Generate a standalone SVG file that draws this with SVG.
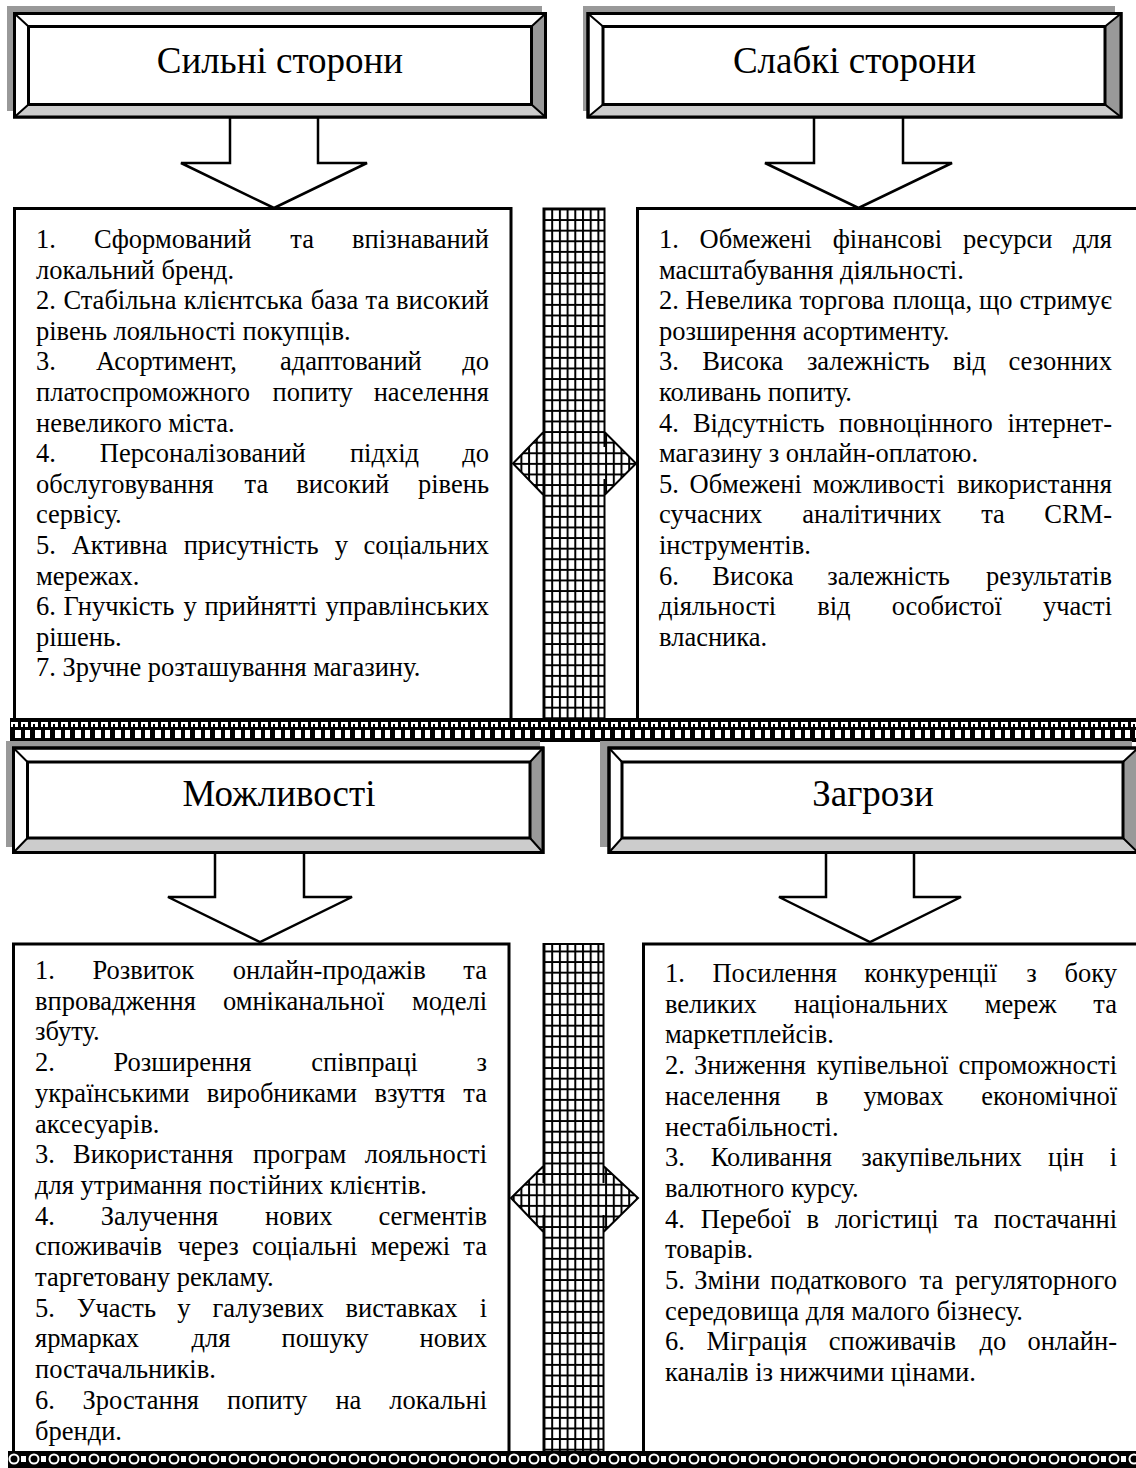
<svg xmlns="http://www.w3.org/2000/svg" width="1136" height="1468" viewBox="0 0 1136 1468">
<style>
.t{font-family:"Liberation Serif","Times New Roman",serif;font-size:26.5px;fill:#000}
.e{text-anchor:end}
.h{font-family:"Liberation Serif","Times New Roman",serif;font-size:37px;fill:#000;text-anchor:middle}
.ln{stroke:#000;stroke-width:3;fill:none}
.sh{fill:#999}
.bo{fill:#fff;stroke:#000;stroke-width:3}
.bb{fill:#ccc;stroke:none}
.br{fill:#999;stroke:none}
.dg{stroke:#000;stroke-width:2}
.arr{fill:#fff;stroke:#000;stroke-width:2.5;stroke-linejoin:miter}
.bar{stroke:#000;stroke-width:2;fill:none}
</style>
<defs>
<pattern id="grid" patternUnits="userSpaceOnUse" x="543.5" y="208.5" width="7.7" height="10.6">
<rect width="7.7" height="10.6" fill="#fff"/>
<path d="M1 0V10.6M0 1H7.7" stroke="#000" stroke-width="2"/>
</pattern>
<pattern id="chk" patternUnits="userSpaceOnUse" x="10" y="718" width="20" height="24">
<rect width="20" height="24" fill="#000"/>
<rect x="1" y="4" width="7" height="5" fill="#fff"/>
<rect x="3" y="6" width="2" height="3" fill="#000"/>
<rect x="11" y="4" width="7" height="5" fill="#fff"/>
<rect x="13" y="6" width="2" height="3" fill="#000"/>
<rect x="5" y="12" width="6" height="8" fill="#fff"/>
<rect x="15" y="12" width="5" height="8" fill="#fff"/>
</pattern>
<pattern id="ring" patternUnits="userSpaceOnUse" x="8" y="1451" width="20" height="17">
<rect width="20" height="17" fill="#000"/>
<circle cx="6" cy="8" r="4.5" fill="none" stroke="#fff" stroke-width="2"/>
<rect x="13" y="5" width="5" height="6" fill="#fff"/>
</pattern>
</defs>
<rect width="1136" height="1468" fill="#fff"/>

<g id="connectors">
<polygon class="arr" points="230,117 230,163 181,163 274,208 367,163 318,163 318,117"/>
<polygon class="arr" points="814,117 814,163 765,163 858.5,208 952,163 903,163 903,117"/>
<polygon class="arr" points="215,852.5 215,897 168,897 260,942 352,897 304,897 304,852.5"/>
<polygon class="arr" points="826,852.5 826,897 779,897 870,942 961,897 914,897 914,852.5"/>
</g>

<g id="title-strengths">
<rect class="sh" x="7" y="6" width="535" height="105"/>
<rect class="bo" x="14.5" y="13.5" width="531" height="103.5"/>
<polygon class="bb" points="14.5,117 28.5,104.5 531.5,104.5 545.5,117"/>
<polygon class="br" points="545.5,13.5 531.5,26.5 531.5,104.5 545.5,117"/>
<rect class="bo" x="28.5" y="26.5" width="503" height="78"/>
<path class="dg" d="M14.5 13.5L28.5 26.5M545.5 13.5L531.5 26.5M14.5 117L28.5 104.5M545.5 117L531.5 104.5"/>
<rect class="bo" x="14.5" y="13.5" width="531" height="103.5" fill="none" style="fill:none"/>
<text class="h" x="280" y="73">Сильні сторони</text>
</g>

<g id="title-weaknesses">
<rect class="sh" x="583" y="6" width="532" height="105"/>
<rect class="bo" x="588" y="13.5" width="533" height="103.5"/>
<polygon class="bb" points="588,117 603,104.5 1105,104.5 1121,117"/>
<polygon class="br" points="1121,13.5 1105,26.5 1105,104.5 1121,117"/>
<rect class="bo" x="603" y="26.5" width="502" height="78"/>
<path class="dg" d="M588 13.5L603 26.5M1121 13.5L1105 26.5M588 117L603 104.5M1121 117L1105 104.5"/>
<rect class="bo" x="588" y="13.5" width="533" height="103.5" style="fill:none"/>
<text class="h" x="854.5" y="73">Слабкі сторони</text>
</g>

<g id="box-strengths">
<path class="ln" d="M14.5 718V208.5H511V718"/>
<g class="t">
<text y="248"><tspan x="36">1.</tspan><tspan x="94">Сформований</tspan><tspan x="290.3">та</tspan></text><text class="e" x="489" y="248">впізнаваний</text>
<text x="36" y="278.6">локальний бренд.</text>
<text y="309.2"><tspan x="36">2.</tspan><tspan x="63.4">Стабільна</tspan><tspan x="183.8">клієнтська</tspan><tspan x="310.8">база</tspan><tspan x="365.5">та</tspan></text><text class="e" x="489" y="309.2">високий</text>
<text x="36" y="339.8">рівень лояльності покупців.</text>
<text y="370.4"><tspan x="36">3.</tspan><tspan x="95.9">Асортимент,</tspan><tspan x="280">адаптований</tspan></text><text class="e" x="489" y="370.4">до</text>
<text y="401"><tspan x="36">платоспроможного</tspan><tspan x="272.6">попиту</tspan></text><text class="e" x="489" y="401">населення</text>
<text x="36" y="431.6">невеликого міста.</text>
<text y="462.2"><tspan x="36">4.</tspan><tspan x="99.8">Персоналізований</tspan><tspan x="349.9">підхід</tspan></text><text class="e" x="489" y="462.2">до</text>
<text y="492.8"><tspan x="36">обслуговування</tspan><tspan x="244.5">та</tspan><tspan x="296.3">високий</tspan></text><text class="e" x="489" y="492.8">рівень</text>
<text x="36" y="523.4">сервісу.</text>
<text y="554"><tspan x="36">5.</tspan><tspan x="71.7">Активна</tspan><tspan x="183.7">присутність</tspan><tspan x="334.7">у</tspan></text><text class="e" x="489" y="554">соціальних</text>
<text x="36" y="584.6">мережах.</text>
<text y="615.2"><tspan x="36">6.</tspan><tspan x="63.5">Гнучкість</tspan><tspan x="183.5">у</tspan><tspan x="204.4">прийнятті</tspan></text><text class="e" x="489" y="615.2">управлінських</text>
<text x="36" y="645.8">рішень.</text>
<text x="36" y="676.4">7. Зручне розташування магазину.</text>
</g>
</g>

<g id="box-weaknesses">
<path class="ln" d="M637.5 718V208.5H1140"/>
<g class="t">
<text y="248"><tspan x="659">1.</tspan><tspan x="699.6">Обмежені</tspan><tspan x="832.7">фінансові</tspan><tspan x="963">ресурси</tspan></text><text class="e" x="1112" y="248">для</text>
<text x="659" y="278.6">масштабування діяльності.</text>
<text y="309.2"><tspan x="659">2.</tspan><tspan x="685.6">Невелика</tspan><tspan x="799.5">торгова</tspan><tspan x="892.7">площа,</tspan><tspan x="978.9">що</tspan></text><text class="e" x="1112" y="309.2">стримує</text>
<text x="659" y="339.8">розширення асортименту.</text>
<text y="370.4"><tspan x="659">3.</tspan><tspan x="702.2">Висока</tspan><tspan x="806.9">залежність</tspan><tspan x="952.7">від</tspan></text><text class="e" x="1112" y="370.4">сезонних</text>
<text x="659" y="401">коливань попиту.</text>
<text y="431.6"><tspan x="659">4.</tspan><tspan x="692.9">Відсутність</tspan><tspan x="838.8">повноцінного</tspan></text><text class="e" x="1112" y="431.6">інтернет-</text>
<text x="659" y="462.2">магазину з онлайн-оплатою.</text>
<text y="492.8"><tspan x="659">5.</tspan><tspan x="689.6">Обмежені</tspan><tspan x="812.8">можливості</tspan></text><text class="e" x="1112" y="492.8">використання</text>
<text y="523.4"><tspan x="659">сучасних</tspan><tspan x="802.3">аналітичних</tspan><tspan x="981.2">та</tspan></text><text class="e" x="1112" y="523.4">CRM-</text>
<text x="659" y="554">інструментів.</text>
<text y="584.6"><tspan x="659">6.</tspan><tspan x="712.3">Висока</tspan><tspan x="827.2">залежність</tspan></text><text class="e" x="1112" y="584.6">результатів</text>
<text y="615.2"><tspan x="659">діяльності</tspan><tspan x="817.2">від</tspan><tspan x="891.7">особистої</tspan></text><text class="e" x="1112" y="615.2">участі</text>
<text x="659" y="645.8">власника.</text>
</g>
</g>

<g id="divider-top">
<rect x="543.5" y="208.5" width="61" height="509.5" fill="url(#grid)"/>
<polygon points="543.5,432 513,463.5 543.5,495 604.5,495 636,463.5 604.5,432" fill="url(#grid)"/>
<path class="bar" d="M543.5 718V447M543.5 479V208.5H604.5V447M604.5 479V718M543.5 432L513 463.5L543.5 495M604.5 432L636 463.5L604.5 495"/>
</g>

<g id="band-middle">
<rect x="10" y="718" width="1126" height="24" fill="url(#chk)"/>
</g>

<g id="title-opportunities">
<rect class="sh" x="6" y="741" width="534" height="106"/>
<rect class="bo" x="13.5" y="748" width="529.5" height="104.5"/>
<polygon class="bb" points="13.5,852.5 27.5,838 530,838 543,852.5"/>
<polygon class="br" points="543,748 530,762 530,838 543,852.5"/>
<rect class="bo" x="27.5" y="762" width="502.5" height="76"/>
<path class="dg" d="M13.5 748L27.5 762M543 748L530 762M13.5 852.5L27.5 838M543 852.5L530 838"/>
<rect class="bo" x="13.5" y="748" width="529.5" height="104.5" style="fill:none"/>
<text class="h" x="279" y="806">Можливості</text>
</g>

<g id="title-threats">
<rect class="sh" x="600" y="741" width="532" height="106"/>
<rect class="bo" x="609" y="748" width="529" height="104.5"/>
<polygon class="bb" points="609,852.5 622,838 1123,838 1138,852.5"/>
<polygon class="br" points="1138,748 1123,762 1123,838 1138,852.5"/>
<rect class="bo" x="622" y="762" width="501" height="76"/>
<path class="dg" d="M609 748L622 762M1138 748L1123 762M609 852.5L622 838M1138 852.5L1123 838"/>
<rect class="bo" x="609" y="748" width="529" height="104.5" style="fill:none"/>
<text class="h" x="873" y="806">Загрози</text>
</g>

<g id="box-opportunities">
<path class="ln" d="M13.5 1451V944H509V1451"/>
<g class="t">
<text y="979"><tspan x="35">1.</tspan><tspan x="92.4">Розвиток</tspan><tspan x="232.7">онлайн-продажів</tspan></text><text class="e" x="487" y="979">та</text>
<text y="1009.7"><tspan x="35">впровадження</tspan><tspan x="222.9">омніканальної</tspan></text><text class="e" x="487" y="1009.7">моделі</text>
<text x="35" y="1040.4">збуту.</text>
<text y="1071.1"><tspan x="35">2.</tspan><tspan x="113.5">Розширення</tspan><tspan x="311.2">співпраці</tspan></text><text class="e" x="487" y="1071.1">з</text>
<text y="1101.8"><tspan x="35">українськими</tspan><tspan x="206.7">виробниками</tspan><tspan x="374.4">взуття</tspan></text><text class="e" x="487" y="1101.8">та</text>
<text x="35" y="1132.5">аксесуарів.</text>
<text y="1163.2"><tspan x="35">3.</tspan><tspan x="73.1">Використання</tspan><tspan x="252.9">програм</tspan></text><text class="e" x="487" y="1163.2">лояльності</text>
<text x="35" y="1193.9">для утримання постійних клієнтів.</text>
<text y="1224.6"><tspan x="35">4.</tspan><tspan x="100.8">Залучення</tspan><tspan x="265.1">нових</tspan></text><text class="e" x="487" y="1224.6">сегментів</text>
<text y="1255.3"><tspan x="35">споживачів</tspan><tspan x="177.8">через</tspan><tspan x="252">соціальні</tspan><tspan x="370.8">мережі</tspan></text><text class="e" x="487" y="1255.3">та</text>
<text x="35" y="1286">таргетовану рекламу.</text>
<text y="1316.7"><tspan x="35">5.</tspan><tspan x="76.7">Участь</tspan><tspan x="177.3">у</tspan><tspan x="212.4">галузевих</tspan><tspan x="345.5">виставках</tspan></text><text class="e" x="487" y="1316.7">і</text>
<text y="1347.4"><tspan x="35">ярмарках</tspan><tspan x="191.5">для</tspan><tspan x="281.6">пошуку</tspan></text><text class="e" x="487" y="1347.4">нових</text>
<text x="35" y="1378.1">постачальників.</text>
<text y="1408.8"><tspan x="35">6.</tspan><tspan x="82.6">Зростання</tspan><tspan x="227">попиту</tspan><tspan x="335.4">на</tspan></text><text class="e" x="487" y="1408.8">локальні</text>
<text x="35" y="1439.5">бренди.</text>
</g>
</g>

<g id="box-threats">
<path class="ln" d="M643.5 1451V944H1140"/>
<g class="t">
<text y="982"><tspan x="665">1.</tspan><tspan x="712.4">Посилення</tspan><tspan x="864.3">конкуренції</tspan><tspan x="1026.3">з</tspan></text><text class="e" x="1117" y="982">боку</text>
<text y="1012.7"><tspan x="665">великих</tspan><tspan x="794.1">національних</tspan><tspan x="984.8">мереж</tspan></text><text class="e" x="1117" y="1012.7">та</text>
<text x="665" y="1043.4">маркетплейсів.</text>
<text y="1074.1"><tspan x="665">2.</tspan><tspan x="694.1">Зниження</tspan><tspan x="816.8">купівельної</tspan></text><text class="e" x="1117" y="1074.1">спроможності</text>
<text y="1104.8"><tspan x="665">населення</tspan><tspan x="815.7">в</tspan><tspan x="863.4">умовах</tspan></text><text class="e" x="1117" y="1104.8">економічної</text>
<text x="665" y="1135.5">нестабільності.</text>
<text y="1166.2"><tspan x="665">3.</tspan><tspan x="710.7">Коливання</tspan><tspan x="861.2">закупівельних</tspan><tspan x="1048.1">цін</tspan></text><text class="e" x="1117" y="1166.2">і</text>
<text x="665" y="1196.9">валютного курсу.</text>
<text y="1227.6"><tspan x="665">4.</tspan><tspan x="700.8">Перебої</tspan><tspan x="806.5">в</tspan><tspan x="834.9">логістиці</tspan><tspan x="954.5">та</tspan></text><text class="e" x="1117" y="1227.6">постачанні</text>
<text x="665" y="1258.3">товарів.</text>
<text y="1289"><tspan x="665">5.</tspan><tspan x="694.3">Зміни</tspan><tspan x="770.2">податкового</tspan><tspan x="919.6">та</tspan></text><text class="e" x="1117" y="1289">регуляторного</text>
<text x="665" y="1319.7">середовища для малого бізнесу.</text>
<text y="1350.4"><tspan x="665">6.</tspan><tspan x="706.4">Міграція</tspan><tspan x="828.8">споживачів</tspan><tspan x="979.5">до</tspan></text><text class="e" x="1117" y="1350.4">онлайн-</text>
<text x="665" y="1381.1">каналів із нижчими цінами.</text>
</g>
</g>

<g id="divider-bottom">
<rect x="543.5" y="944" width="60" height="507" fill="url(#grid)"/>
<polygon points="543.5,1166 511,1198 543.5,1232 603.5,1232 638,1198 603.5,1166" fill="url(#grid)"/>
<path class="bar" d="M543.5 1451V1215M543.5 1183V944H603.5V1183M603.5 1215V1451M543.5 1166L511 1198L543.5 1232M603.5 1166L638 1198L603.5 1232"/>
</g>

<g id="band-bottom">
<rect x="8" y="1451" width="1128" height="17" fill="url(#ring)"/>
</g>
</svg>
